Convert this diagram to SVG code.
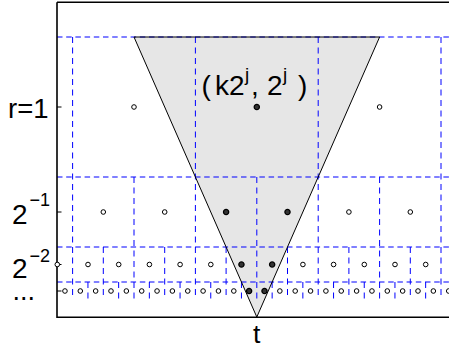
<svg xmlns="http://www.w3.org/2000/svg" width="449" height="347" viewBox="0 0 449 347">
<style>
.grid{stroke:#0000ff;stroke-width:1;stroke-dasharray:5.5 3.7;fill:none}
.vg{stroke:#0000ff;stroke-width:1;stroke-dasharray:6 4.5;fill:none}
.axis{stroke:#000;stroke-width:1.6;fill:none}
.tick{stroke:#000;stroke-width:1;fill:none}
.o{fill:#fff;stroke:#000;stroke-width:1}
.f{fill:#333;stroke:#000;stroke-width:1.3}
text{font-family:"Liberation Sans",Arial,sans-serif;fill:#000}
</style>
<defs>
<circle id="od" r="2.3" class="o"/>
<circle id="fd" r="2.6" class="f"/>
</defs>
<rect width="449" height="347" fill="#fff"/>
<g id="cone-fill">
<polygon points="134,37 379.6,37 256.8,317" fill="#e6e6e6" stroke="none"/>
</g>
<g id="grid">
<path class="grid" d="M57,37H449M57,177H449M57,247H449M57,282H449"/>
<path class="vg" d="M72.6,37V299.5M195.4,37V299.5M318.2,37V299.5M441,37V299.5"/>
<path class="vg" d="M134,177V299.5M256.8,177V299.5M379.6,177V299.5"/>
<path class="vg" d="M103.3,247V299.5M164.7,247V299.5M226.1,247V299.5M287.5,247V299.5M348.9,247V299.5M410.3,247V299.5"/>
<path class="vg" d="M87.95,282V299.5M118.65,282V299.5M149.35,282V299.5M180.05,282V299.5M210.75,282V299.5M241.45,282V299.5M272.15,282V299.5M302.85,282V299.5M333.55,282V299.5M364.25,282V299.5M394.95,282V299.5M425.65,282V299.5"/>
</g>
<g id="cone">
<polygon points="134,37 379.6,37 256.8,317" fill="none" stroke="#000" stroke-width="1"/>
</g>
<g id="axes">
<path class="axis" d="M57,2.3H449M57,2.3V317.3H449"/>
<path class="tick" d="M57,107H61.5M57,212H61.5M57,264.5H61.5M57,291H61.5"/>
</g>
<g id="dots-level1">
<use href="#od" x="134" y="107"/>
<use href="#fd" x="256.8" y="107"/>
<use href="#od" x="379.6" y="107"/>
</g>
<g id="dots-level2">
<use href="#od" x="103.3" y="212"/>
<use href="#od" x="164.7" y="212"/>
<use href="#fd" x="226.1" y="212"/>
<use href="#fd" x="287.5" y="212"/>
<use href="#od" x="348.9" y="212"/>
<use href="#od" x="410.3" y="212"/>
</g>
<g id="dots-level3">
<use href="#od" x="57.3" y="264.5"/>
<use href="#od" x="88" y="264.5"/>
<use href="#od" x="118.7" y="264.5"/>
<use href="#od" x="149.4" y="264.5"/>
<use href="#od" x="180.1" y="264.5"/>
<use href="#od" x="210.8" y="264.5"/>
<use href="#fd" x="241.45" y="264.5"/>
<use href="#fd" x="272.15" y="264.5"/>
<use href="#od" x="302.9" y="264.5"/>
<use href="#od" x="333.6" y="264.5"/>
<use href="#od" x="364.3" y="264.5"/>
<use href="#od" x="395" y="264.5"/>
<use href="#od" x="425.7" y="264.5"/>
</g>
<g id="dots-level4">
<use href="#od" x="64.95" y="291"/>
<use href="#od" x="80.3" y="291"/>
<use href="#od" x="95.65" y="291"/>
<use href="#od" x="111" y="291"/>
<use href="#od" x="126.35" y="291"/>
<use href="#od" x="141.7" y="291"/>
<use href="#od" x="157.05" y="291"/>
<use href="#od" x="172.4" y="291"/>
<use href="#od" x="187.75" y="291"/>
<use href="#od" x="203.1" y="291"/>
<use href="#od" x="218.45" y="291"/>
<use href="#od" x="233.8" y="291"/>
<use href="#fd" x="249.1" y="291"/>
<use href="#fd" x="264.5" y="291"/>
<use href="#od" x="279.85" y="291"/>
<use href="#od" x="295.2" y="291"/>
<use href="#od" x="310.55" y="291"/>
<use href="#od" x="325.9" y="291"/>
<use href="#od" x="341.25" y="291"/>
<use href="#od" x="356.6" y="291"/>
<use href="#od" x="371.95" y="291"/>
<use href="#od" x="387.3" y="291"/>
<use href="#od" x="402.65" y="291"/>
<use href="#od" x="418" y="291"/>
<use href="#od" x="433.35" y="291"/>
<use href="#od" x="448.7" y="291"/>
</g>
<g id="labels">
<text x="48.5" y="117.5" font-size="27.5" text-anchor="end">r=1</text>
<text x="12" y="224" font-size="28">2<tspan x="29.5" y="205.5" font-size="18">−1</tspan></text>
<text x="12" y="278" font-size="28">2<tspan x="29.5" y="261.5" font-size="18">−2</tspan></text>
<text x="12.5" y="299.5" font-size="27">...</text>
<text x="256.8" y="342.5" font-size="26.5" text-anchor="middle">t</text>
<text y="95" font-size="28"><tspan x="201.5">(</tspan><tspan x="215">k2</tspan><tspan x="245" y="81" font-size="19">j</tspan><tspan x="251" y="95">,</tspan><tspan x="267">2</tspan><tspan x="283" y="81" font-size="19">j</tspan><tspan x="298" y="95">)</tspan></text>
</g>
</svg>
